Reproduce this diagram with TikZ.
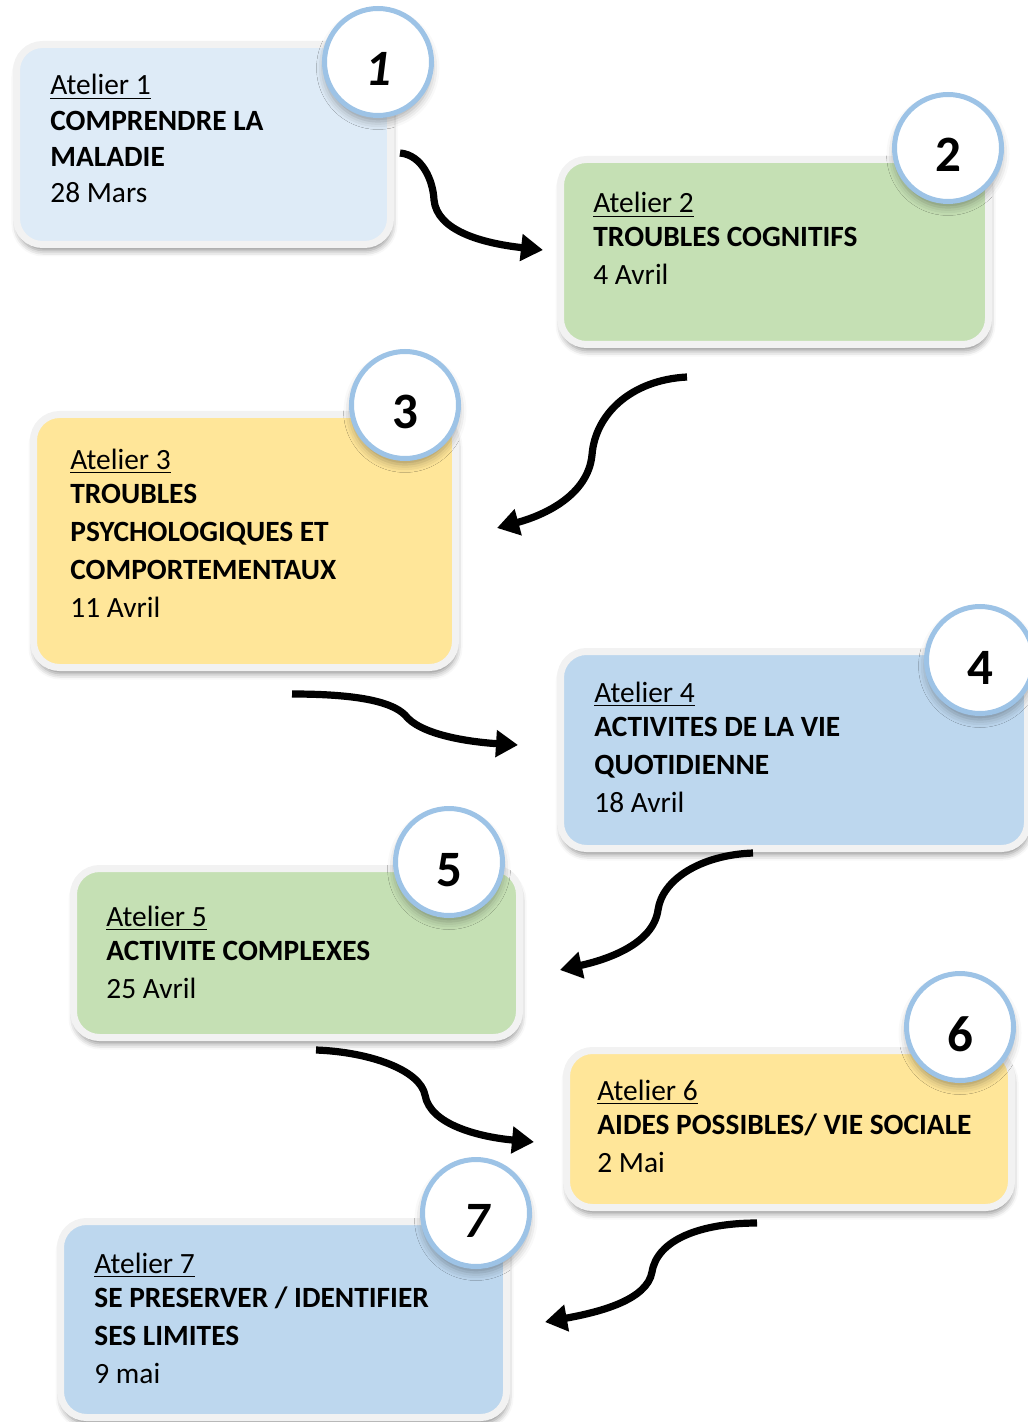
\documentclass[tikz,border=0pt]{standalone}
\usepackage{fontspec}
\setmainfont{Carlito}
\usetikzlibrary{arrows.meta,shadows.blur}
\definecolor{bleuclair}{HTML}{DEEBF7}
\definecolor{bleu}{HTML}{BDD7EE}
\definecolor{vert}{HTML}{C5E0B4}
\definecolor{jaune}{HTML}{FFE699}
\definecolor{bord}{HTML}{F2F2F2}
\definecolor{anneau}{HTML}{9DC3E6}
\tikzset{
  atelier/.style={rectangle, draw=bord, line width=3.5pt, rounded corners=13pt, inner sep=0pt,
    blur shadow={shadow xshift=0.5pt, shadow yshift=-3pt, shadow blur radius=3pt, shadow opacity=45}},
  taille/.style 2 args={minimum width=#1*0.5pt, minimum height=#2*0.5pt},
  numero/.style={circle, draw=anneau, fill=white, line width=2.5pt, minimum size=53.5pt, inner sep=0pt,
    text height=24pt, text depth=0pt,
    font=\fontsize{25.5}{25.5}\selectfont\bfseries,
    blur shadow={shadow xshift=0pt, shadow yshift=-3pt, shadow blur radius=4pt, shadow opacity=35}},
  % base = ligne du bas (la date)
  texte/.style={anchor=base west, inner sep=0pt, align=left, font=\fontsize{14.7}{19}\selectfont},
  fleche/.style={line width=3.6pt, -{Triangle[length=11pt,width=13pt]}}
}
\begin{document}
\begin{tikzpicture}[x=0.5pt,y=-0.5pt]
  \useasboundingbox (0,0) rectangle (1027,1422);
  % les ateliers
  \node[atelier, fill=bleuclair, taille={374}{200}] (b1) at (203.5,144.5) {};
  \node[atelier, fill=vert,      taille={428}{185}] (b2) at (774.5,252) {};
  \node[atelier, fill=jaune,     taille={422}{253}] (b3) at (244.5,541) {};
  \node[atelier, fill=bleu,      taille={467}{197}] (b4) at (794,750) {};
  \node[atelier, fill=vert,      taille={446}{169}] (b5) at (296.5,953) {};
  \node[atelier, fill=jaune,     taille={445}{157}] (b6) at (789,1129) {};
  \node[atelier, fill=bleu,      taille={446}{196}] (b7) at (283.5,1319.5) {};
  % les textes
  \node[texte] (t1) at ([shift={(37,162)}]b1.north west)
    {\underline{Atelier 1}\\[-1pt]\textbf{COMPRENDRE LA}\\[-1pt]\textbf{MALADIE}\\[-1pt]28 Mars};
  \node[texte] (t2) at ([shift={(36,129)}]b2.north west)
    {\underline{Atelier 2}\\[-2pt]\textbf{TROUBLES COGNITIFS}\\4 Avril};
  \node[texte] (t3) at ([shift={(40,206)}]b3.north west)
    {\underline{Atelier 3}\\[-2pt]\textbf{TROUBLES}\\\textbf{PSYCHOLOGIQUES ET}\\\textbf{COMPORTEMENTAUX}\\11 Avril};
  \node[texte] (t4) at ([shift={(37,164)}]b4.north west)
    {\underline{Atelier 4}\\[-2pt]\textbf{ACTIVITES DE LA VIE}\\\textbf{QUOTIDIENNE}\\18 Avril};
  \node[texte] (t5) at ([shift={(36,133)}]b5.north west)
    {\underline{Atelier 5}\\[-2pt]\textbf{ACTIVITE COMPLEXES}\\25 Avril};
  \node[texte] (t6) at ([shift={(34,125)}]b6.north west)
    {\underline{Atelier 6}\\[-2pt]\textbf{AIDES POSSIBLES/ VIE SOCIALE}\\2 Mai};
  \node[texte] (t7) at ([shift={(37,165)}]b7.north west)
    {\underline{Atelier 7}\\[-2pt]\textbf{SE PRESERVER / IDENTIFIER}\\\textbf{SES LIMITES}\\9 mai};
  % les numeros
  \node[numero] (n1) at (378,62) {\itshape 1};
  \node[numero] (n2) at (948,148) {2};
  \node[numero] (n3) at (405,405) {3};
  \node[numero] (n4) at (980,660) {4};
  \node[numero] (n5) at (449,862) {5};
  \node[numero] (n6) at (960,1027) {6};
  \node[numero] (n7) at (476,1213) {\itshape 7};
  % les fleches
  \draw[fleche] ([shift={(6,8.5)}]b1.east) .. controls (422,155) and (433,180) .. (434,200)
    .. controls (437,230) and (480,243) .. ([shift={(-14,-2)}]b2.west);
  \draw[fleche] ([shift={(-87.5,29)}]b2.south) .. controls (630,380) and (595,415) .. (592,455)
    .. controls (588,495) and (545,515) .. ([shift={(38,-13)}]b3.east);
  \draw[fleche] ([shift={(47.5,23)}]b3.south) .. controls (350,694) and (390,700) .. (405,715)
    .. controls (420,735) and (470,742) .. ([shift={(-39,-5)}]b4.west);
  \draw[fleche] ([shift={(-41,1)}]b4.south) .. controls (700,855) and (662,880) .. (658,910)
    .. controls (653,945) and (605,960) .. ([shift={(37,17)}]b5.east);
  \draw[fleche] ([shift={(19.5,9)}]b5.south) .. controls (370,1052) and (420,1070) .. (425,1095)
    .. controls (430,1125) and (480,1137) .. ([shift={(-29,13)}]b6.west);
  \draw[fleche] ([shift={(-32,12)}]b6.south) .. controls (700,1223) and (657,1240) .. (652,1272)
    .. controls (647,1300) and (600,1312) .. ([shift={(35,2.5)}]b7.east);
\end{tikzpicture}
\end{document}
